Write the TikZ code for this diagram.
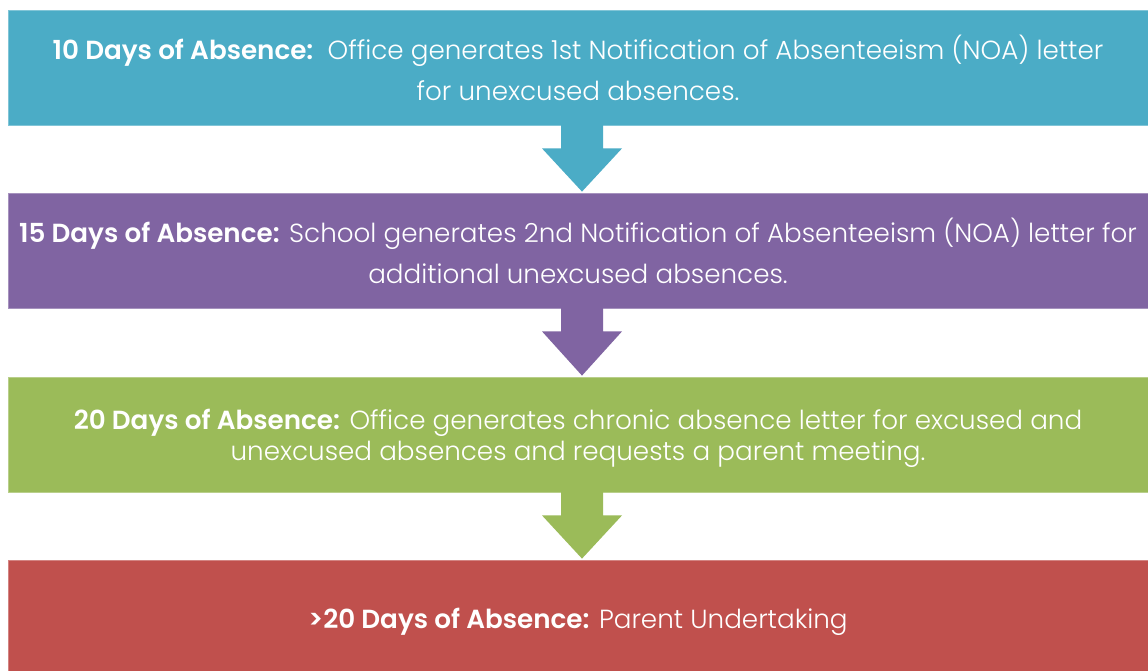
\documentclass[tikz,border=0pt]{standalone}
\usepackage{fontspec}
\setmainfont{Poppins}[UprightFont={* Light}, BoldFont={* SemiBold}]
\usetikzlibrary{calc}
\definecolor{cblue}{HTML}{4BACC6}
\definecolor{cpurple}{HTML}{8064A2}
\definecolor{cgreen}{HTML}{9BBB59}
\definecolor{cred}{HTML}{C0504D}
\newcommand{\lowerby}[2]{\raisebox{-#1}[\height][\depth]{#2}}
\begin{document}
\begin{tikzpicture}[x=1pt,y=-1pt,
  stepbox/.style={rectangle, minimum width=1140pt, minimum height=115pt, inner sep=0pt,
     text=white, align=center, font=\fontsize{26.2}{41}\selectfont, line width=0.8pt}]
\useasboundingbox[fill=white] (0,0) rectangle (1148,671);
\node[stepbox, fill=cblue, draw=cblue!70!white] (b1) at (578,67.5)
  {\textbf{10 Days of Absence:}\ \ Office generates 1st Notification of Absenteeism (NOA) letter\\for unexcused absences.};
\node[stepbox, fill=cpurple, draw=cpurple!70!white] (b2) at (578,250.5)
  {\textbf{15 Days of Absence:} School generates 2nd Notification of Absenteeism (NOA) letter for\\additional unexcused absences.};
\node[stepbox, fill=cgreen, draw=cgreen!70!white, font=\fontsize{26.2}{31}\selectfont] (b3) at (578,434.5)
  {\lowerby{3.5pt}{\textbf{20 Days of Absence:} Office generates chronic absence letter for excused and}\\\lowerby{3.5pt}{unexcused absences and requests a parent meeting.}};
\node[stepbox, fill=cred, draw=cred!70!white, minimum height=111pt] (b4) at (578,615.5)
  {\lowerby{6pt}{\textbf{>20 Days of Absence:} Parent Undertaking}};
\foreach \a/\b/\c in {b1/b2/cblue, b2/b3/cpurple, b3/b4/cgreen}{
  \fill[\c] ($(\a.south)+(-17,-1)$) -- ($(\a.south)+(-17,23)$) -- ($(\a.south)+(-36,23)$)
     -- ($(\b.north)+(4,-1)$) -- ($(\a.south)+(44,23)$) -- ($(\a.south)+(25,23)$)
     -- ($(\a.south)+(25,-1)$) -- cycle;
}
\end{tikzpicture}
\end{document}
